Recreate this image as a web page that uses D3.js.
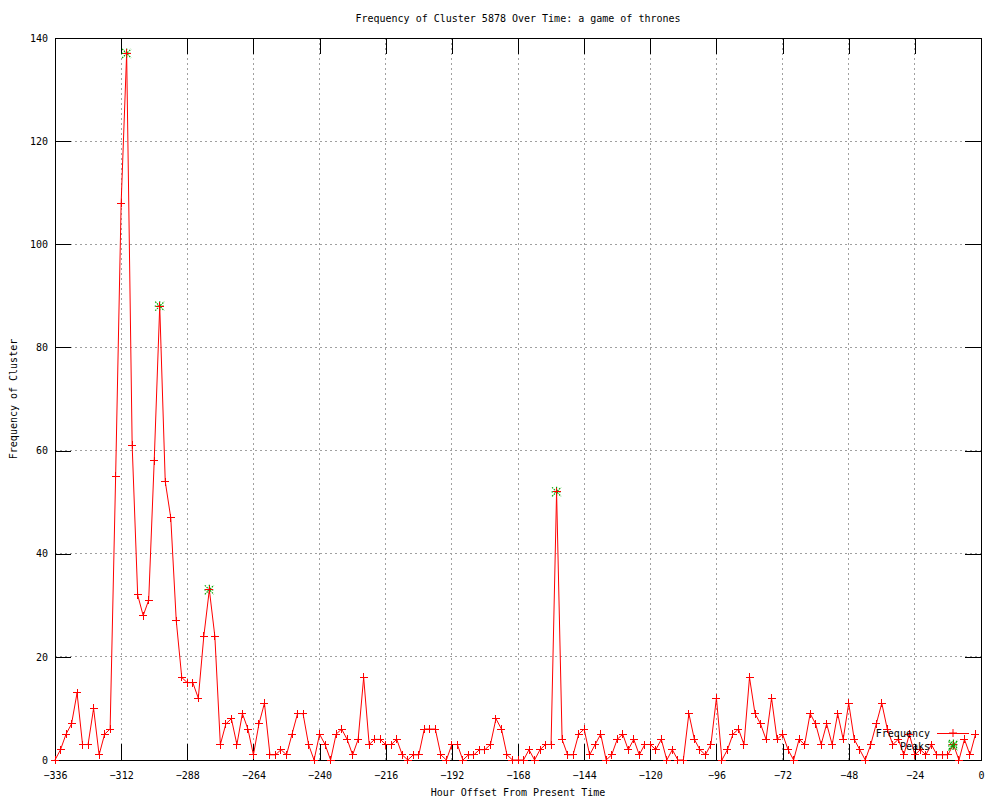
<!DOCTYPE html>
<html>
<head>
<meta charset="utf-8">
<script src="https://cdn.jsdelivr.net/npm/d3@7"></script>
<style>
  body { margin: 0; background: #fff; }
  text { font-family: "DejaVu Sans Mono", monospace; font-size: 10px; fill: #000; }
</style>
</head>
<body>
<div id="chart"></div>
<script>
// hour offsets of each sample (every 2 hours)
var hours = [
  -336, -334, -332, -330, -328, -326, -324, -322, -320, -318, -316, -314, -312, -310, -308, -306,
  -304, -302, -300, -298, -296, -294, -292, -290, -288, -286, -284, -282, -280, -278, -276, -274,
  -272, -270, -268, -266, -264, -262, -260, -258, -256, -254, -252, -250, -248, -246, -244, -242,
  -240, -238, -236, -234, -232, -230, -228, -226, -224, -222, -220, -218, -216, -214, -212, -210,
  -208, -206, -204, -202, -200, -198, -196, -194, -192, -190, -188, -186, -184, -182, -180, -178,
  -176, -174, -172, -170, -168, -166, -164, -162, -160, -158, -156, -154, -152, -150, -148, -146,
  -144, -142, -140, -138, -136, -134, -132, -130, -128, -126, -124, -122, -120, -118, -116, -114,
  -112, -110, -108, -106, -104, -102, -100, -98, -96, -94, -92, -90, -88, -86, -84, -82,
  -80, -78, -76, -74, -72, -70, -68, -66, -64, -62, -60, -58, -56, -54, -52, -50,
  -48, -46, -44, -42, -40, -38, -36, -34, -32, -30, -28, -26, -24, -22, -20, -18,
  -16, -14, -12, -10, -8, -6, -4, -2
]
var frequency = [
  0, 2, 5, 7, 13, 3, 3, 10, 1, 5, 6, 55, 108, 137, 61, 32,
  28, 31, 58, 88, 54, 47, 27, 16, 15, 15, 12, 24, 33, 24, 3, 7,
  8, 3, 9, 6, 1, 7, 11, 1, 1, 2, 1, 5, 9, 9, 3, 0,
  5, 3, 0, 5, 6, 4, 1, 4, 16, 3, 4, 4, 3, 3, 4, 1,
  0, 1, 1, 6, 6, 6, 1, 0, 3, 3, 0, 1, 1, 2, 2, 3,
  8, 6, 1, 0, 0, 0, 2, 0, 2, 3, 3, 52, 4, 1, 1, 5,
  6, 1, 3, 5, 0, 1, 4, 5, 2, 4, 1, 3, 3, 2, 4, 0,
  2, 0, 0, 9, 4, 2, 1, 3, 12, 0, 2, 5, 6, 3, 16, 9,
  7, 4, 12, 4, 5, 2, 0, 4, 3, 9, 7, 3, 7, 3, 9, 4,
  11, 4, 2, 0, 3, 7, 11, 6, 3, 4, 1, 5, 1, 2, 1, 3,
  1, 1, 1, 3, 0, 4, 1, 5
]
var peakHours = [-310, -298, -280, -154, -10]
var peakValues = [137, 88, 33, 52, 3]

var xTicks = [-336, -312, -288, -264, -240, -216, -192, -168, -144, -120, -96, -72, -48, -24, 0]
var yTicks = [0, 20, 40, 60, 80, 100, 120, 140]

var width = 1000
var height = 800
var plot = { left: 55, right: 981, top: 38, bottom: 760 }
var tickLen = 16

var svg = d3.select('#chart').append('svg')
  .attr('width', width)
  .attr('height', height)
svg.append('rect').attr('width', width).attr('height', height).attr('fill', '#fff')

var x = d3.scaleLinear().domain([-336, 0]).range([plot.left, plot.right])
var y = d3.scaleLinear().domain([0, 140]).range([plot.bottom, plot.top])

// grid
var grid = svg.append('g')
  .attr('stroke', '#a0a0a0')
  .attr('stroke-dasharray', '2,3')
  .attr('shape-rendering', 'crispEdges')
grid.selectAll('.gx')
  .data(xTicks.filter(function (d) { return d !== -336 && d !== 0 }))
  .enter().append('line')
  .attr('x1', function (d) { return x(d) })
  .attr('x2', function (d) { return x(d) })
  .attr('y1', plot.top)
  .attr('y2', plot.bottom)
grid.selectAll('.gy')
  .data(yTicks.filter(function (d) { return d !== 0 && d !== 140 }))
  .enter().append('line')
  .attr('y1', function (d) { return y(d) })
  .attr('y2', function (d) { return y(d) })
  .attr('x1', plot.left)
  .attr('x2', plot.right)

// axes, ticks pointing inwards
function styleAxis (g) {
  g.attr('shape-rendering', 'crispEdges')
  g.selectAll('path, line').attr('stroke', '#000')
  g.selectAll('text')
    .style('font-family', '"DejaVu Sans Mono", monospace')
    .style('font-size', '10px')
    .attr('fill', '#000')
}

svg.append('g')
  .attr('transform', 'translate(0,' + plot.bottom + ')')
  .call(d3.axisBottom(x).tickValues(xTicks).tickSizeInner(-tickLen).tickSizeOuter(0).tickPadding(12))
  .call(styleAxis)

svg.append('g')
  .attr('transform', 'translate(0,' + plot.top + ')')
  .call(d3.axisTop(x).tickValues(xTicks).tickSizeInner(-tickLen).tickSizeOuter(0).tickFormat(''))
  .call(styleAxis)

svg.append('g')
  .attr('transform', 'translate(' + plot.left + ',0)')
  .call(d3.axisLeft(y).tickValues(yTicks).tickSizeInner(-tickLen).tickSizeOuter(0).tickPadding(7))
  .call(styleAxis)

svg.append('g')
  .attr('transform', 'translate(' + plot.right + ',0)')
  .call(d3.axisRight(y).tickValues(yTicks).tickSizeInner(-tickLen).tickSizeOuter(0).tickFormat(''))
  .call(styleAxis)

// frequency line
var points = hours.map(function (h, i) { return { h: h, v: frequency[i] } })
var line = d3.line()
  .x(function (d) { return x(d.h) })
  .y(function (d) { return y(d.v) })

svg.append('path')
  .datum(points)
  .attr('d', line)
  .attr('fill', 'none')
  .attr('stroke', '#ff0000')
  .attr('stroke-width', 1)

var plusPath = 'M-4,0H4M0,-4V4'
var starPath = 'M-4.5,-4.5L4.5,4.5M-4.5,4.5L4.5,-4.5M-5,0H5M0,-5V5'

// peaks
var peaks = peakHours.map(function (h, i) { return { h: h, v: peakValues[i] } })
svg.append('g').selectAll('path')
  .data(peaks)
  .enter().append('path')
  .attr('transform', function (d) { return 'translate(' + x(d.h) + ',' + y(d.v) + ')' })
  .attr('d', starPath)
  .attr('stroke', '#00a800')
  .attr('stroke-width', 1.2)
  .attr('stroke-dasharray', '1.5,1')

svg.append('g').selectAll('path')
  .data(points)
  .enter().append('path')
  .attr('transform', function (d) { return 'translate(' + x(d.h) + ',' + y(d.v) + ')' })
  .attr('d', plusPath)
  .attr('stroke', '#ff0000')
  .attr('shape-rendering', 'crispEdges')

// legend
var legend = svg.append('g')
legend.append('text')
  .attr('x', 930).attr('y', 733).attr('dy', '0.35em')
  .attr('text-anchor', 'end')
  .text('Frequency')
legend.append('line')
  .attr('x1', 937).attr('x2', 969).attr('y1', 733.5).attr('y2', 733.5)
  .attr('stroke', '#ff0000')
legend.append('path')
  .attr('transform', 'translate(953,733)')
  .attr('d', plusPath)
  .attr('stroke', '#ff0000')
legend.append('text')
  .attr('x', 930).attr('y', 746).attr('dy', '0.35em')
  .attr('text-anchor', 'end')
  .text('Peaks')
legend.append('path')
  .attr('transform', 'translate(953,746)')
  .attr('d', starPath)
  .attr('stroke', '#00a800')
  .attr('stroke-width', 1.2)
  .attr('stroke-dasharray', '1.5,1')

// titles
svg.append('text')
  .attr('x', (plot.left + plot.right) / 2).attr('y', 18).attr('dy', '0.35em')
  .attr('text-anchor', 'middle')
  .text('Frequency of Cluster 5878 Over Time: a game of thrones')

svg.append('text')
  .attr('x', (plot.left + plot.right) / 2).attr('y', 792).attr('dy', '0.35em')
  .attr('text-anchor', 'middle')
  .text('Hour Offset From Present Time')

svg.append('text')
  .attr('transform', 'translate(13,' + (plot.top + plot.bottom) / 2 + ')rotate(-90)')
  .attr('dy', '0.35em')
  .attr('text-anchor', 'middle')
  .text('Frequency of Cluster')
</script>
</body>
</html>
